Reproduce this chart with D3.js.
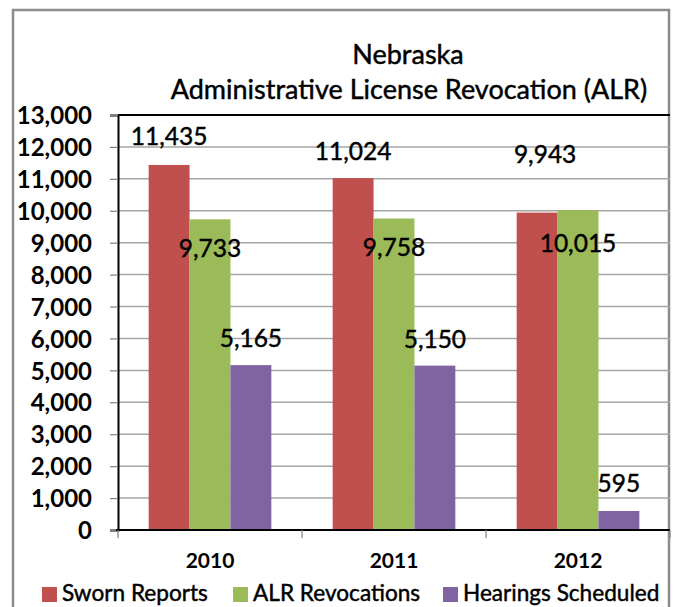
<!DOCTYPE html>
<html>
<head>
<meta charset="utf-8">
<script src="https://cdn.jsdelivr.net/npm/d3@7"></script>
<style>
  body { margin: 0; background: #fff; }
  text { font-family: Lato, "Open Sans", sans-serif; fill: #000; }
  .heavy { stroke: #000; stroke-width: 0.45px; }
</style>
</head>
<body>
<div id="chart"></div>
<script>
const years = ['2010', '2011', '2012']
const series = ['Sworn Reports', 'ALR Revocations', 'Hearings Scheduled']
const sworn = [11435, 11024, 9943]
const revocations = [9733, 9758, 10015]
const hearings = [5165, 5150, 595]
const yTicks = [0, 1000, 2000, 3000, 4000, 5000, 6000, 7000, 8000, 9000, 10000, 11000, 12000, 13000]

const colors = ['#C0504D', '#9BBB59', '#8064A2']
const values = [sworn, revocations, hearings]

// label placement: [dx, dy from bar top], hand-placed in the original
const labelNudge = [
  [[0, -20], [0, -18], [8, -50]],
  [[0, 38], [0, 38], [0, 42]],
  [[0, -18], [0, -18], [0, -19]]
]

const width = 675, height = 607
const plot = {left: 118, right: 670, top: 115, bottom: 530}

const svg = d3.select('#chart').append('svg')
  .attr('width', width)
  .attr('height', height)

// outer chart border
svg.append('rect')
  .attr('x', 13).attr('y', 10)
  .attr('width', 656).attr('height', 620)
  .attr('fill', '#fff')
  .attr('stroke', '#8c8c8c')
  .attr('stroke-width', 2.5)

const x0 = d3.scaleBand().domain(years).range([plot.left, plot.right])
const x1 = d3.scaleBand().domain(series).range([0, x0.bandwidth()]).paddingOuter(0.75)
const y = d3.scaleLinear().domain([0, 13000]).range([plot.bottom, plot.top])

// gridlines
svg.append('g')
  .selectAll('line')
  .data(yTicks.slice(1))
  .join('line')
  .attr('x1', plot.left).attr('x2', plot.right)
  .attr('y1', (d) => y(d)).attr('y2', (d) => y(d))
  .attr('stroke', '#a6a6a6')
  .attr('stroke-width', 1.5)

// top frame line
svg.append('line')
  .attr('x1', plot.left).attr('x2', plot.right)
  .attr('y1', plot.top).attr('y2', plot.top)
  .attr('stroke', '#000').attr('stroke-width', 2)

// bars
series.forEach((s, si) => {
  svg.append('g')
    .selectAll('rect')
    .data(values[si])
    .join('rect')
    .attr('x', (d, i) => x0(years[i]) + x1(s))
    .attr('y', (d) => y(d))
    .attr('width', x1.bandwidth())
    .attr('height', (d) => y(0) - y(d))
    .attr('fill', colors[si])
})

// y axis
const yAxis = svg.append('g')
  .attr('transform', 'translate(' + plot.left + ',0)')
  .call(d3.axisLeft(y).tickValues(yTicks).tickSize(8).tickPadding(18).tickFormat(d3.format(',')))
yAxis.select('.domain').attr('stroke', '#000').attr('stroke-width', 2)
yAxis.selectAll('.tick line').attr('stroke', '#808080').attr('stroke-width', 1.2)
yAxis.selectAll('text')
  .style('font-family', 'Lato, sans-serif')
  .style('font-size', '24px')
  .style('font-weight', 'bold')
  .attr('dy', '0.36em')

// x axis
const xAxis = svg.append('g')
  .attr('transform', 'translate(0,' + plot.bottom + ')')
xAxis.append('line')
  .attr('x1', plot.left - 2).attr('x2', plot.right)
  .attr('stroke', '#000').attr('stroke-width', 2)
xAxis.selectAll('.xtick')
  .data(years.concat(['end']))
  .join('line')
  .attr('class', 'xtick')
  .attr('x1', (d) => d === 'end' ? plot.right : x0(d))
  .attr('x2', (d) => d === 'end' ? plot.right : x0(d))
  .attr('y1', 0).attr('y2', 8)
  .attr('stroke', '#808080').attr('stroke-width', 1.2)
xAxis.selectAll('.xlabel')
  .data(years)
  .join('text')
  .attr('class', 'xlabel')
  .attr('x', (d) => x0(d) + x0.bandwidth() / 2)
  .attr('y', 38)
  .attr('text-anchor', 'middle')
  .style('font-size', '21px')
  .style('font-weight', 'bold')
  .text((d) => d)

// value labels
series.forEach((s, si) => {
  svg.append('g')
    .selectAll('text')
    .data(values[si])
    .join('text')
    .attr('class', 'heavy')
    .attr('x', (d, i) => x0(years[i]) + x1(s) + x1.bandwidth() / 2 + labelNudge[si][i][0])
    .attr('y', (d, i) => y(d) + labelNudge[si][i][1])
    .attr('text-anchor', 'middle')
    .style('font-size', '24.5px')
    .text((d) => d3.format(',')(d))
})

// title
const title = svg.append('text')
  .attr('class', 'heavy')
  .attr('text-anchor', 'middle')
  .style('font-size', '27px')
title.append('tspan').attr('x', 408).attr('y', 64).text('Nebraska')
title.append('tspan').attr('x', 409).attr('y', 99).text('Administrative License Revocation (ALR)')

// legend
const legendX = [42, 233, 443]
const legend = svg.append('g')
  .selectAll('g')
  .data(series)
  .join('g')
  .attr('transform', (d, i) => 'translate(' + legendX[i] + ',587)')
legend.append('rect')
  .attr('width', 15).attr('height', 15)
  .attr('fill', (d, i) => colors[i])
legend.append('text')
  .attr('class', 'heavy')
  .attr('x', 20).attr('y', 14)
  .style('font-size', '22.6px')
  .text((d) => d)
</script>
</body>
</html>
